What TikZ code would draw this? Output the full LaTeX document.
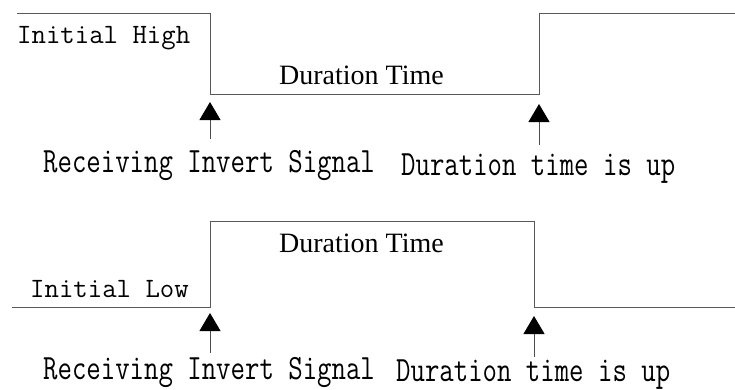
\documentclass[tikz,border=0pt]{standalone}
\usepackage{graphicx}
\usepackage{fontspec}
\setmainfont{Liberation Serif}
\usetikzlibrary{arrows.meta}

\newcommand{\tallmono}[2]{\scalebox{1}[#1]{\ttfamily #2}}

\begin{document}
\begin{tikzpicture}[x=1pt,y=-1pt,
  wave/.style={draw=black!65, line width=1pt},
  trigger/.style={draw=black!70, line width=1pt, -{Triangle[width=21pt,length=18pt,black]}},
  lbl/.style={anchor=base west, inner sep=0pt, font=\fontsize{28}{29}\selectfont},
  dur/.style={anchor=base west, inner sep=0pt, font=\fontsize{28}{30}\selectfont}]

\useasboundingbox (0,0) rectangle (735,389);

% upper trace: starts high
\draw[wave] (17,13) -- (210,13) -- (210,94) -- (539,94) -- (539,13) -- (735,13);

\node[lbl] (high) at (17,43) {\tallmono{1}{Initial High}};
\node[dur] (durA) at (279,84) {Duration Time};

\coordinate (sigA) at (210,102);
\coordinate (sigAfoot) at (210,139);
\coordinate (upA) at (539,104);
\coordinate (upAfoot) at (539,145);
\draw[trigger] (sigAfoot) -- (sigA);
\draw[trigger] (upAfoot) -- (upA);

\node[lbl] (recvA) at (43,172) {\tallmono{1.27}{Receiving Invert Signal}};
\node[lbl] (doneA) at (401,175) {\tallmono{1.27}{Duration time is up}};

% lower trace: starts low
\draw[wave] (12,307) -- (210,307) -- (210,221) -- (534,221) -- (534,307) -- (735,307);

\node[lbl] (low) at (30,297) {\tallmono{1}{Initial Low}};
\node[dur] (durB) at (279,252) {Duration Time};

\coordinate (sigB) at (210,313);
\coordinate (sigBfoot) at (210,353);
\coordinate (upB) at (534,316);
\coordinate (upBfoot) at (534,357);
\draw[trigger] (sigBfoot) -- (sigB);
\draw[trigger] (upBfoot) -- (upB);

\node[lbl] (recvB) at (43,379) {\tallmono{1.27}{Receiving Invert Signal}};
\node[lbl] (doneB) at (396,381) {\tallmono{1.27}{Duration time is up}};

\end{tikzpicture}
\end{document}
